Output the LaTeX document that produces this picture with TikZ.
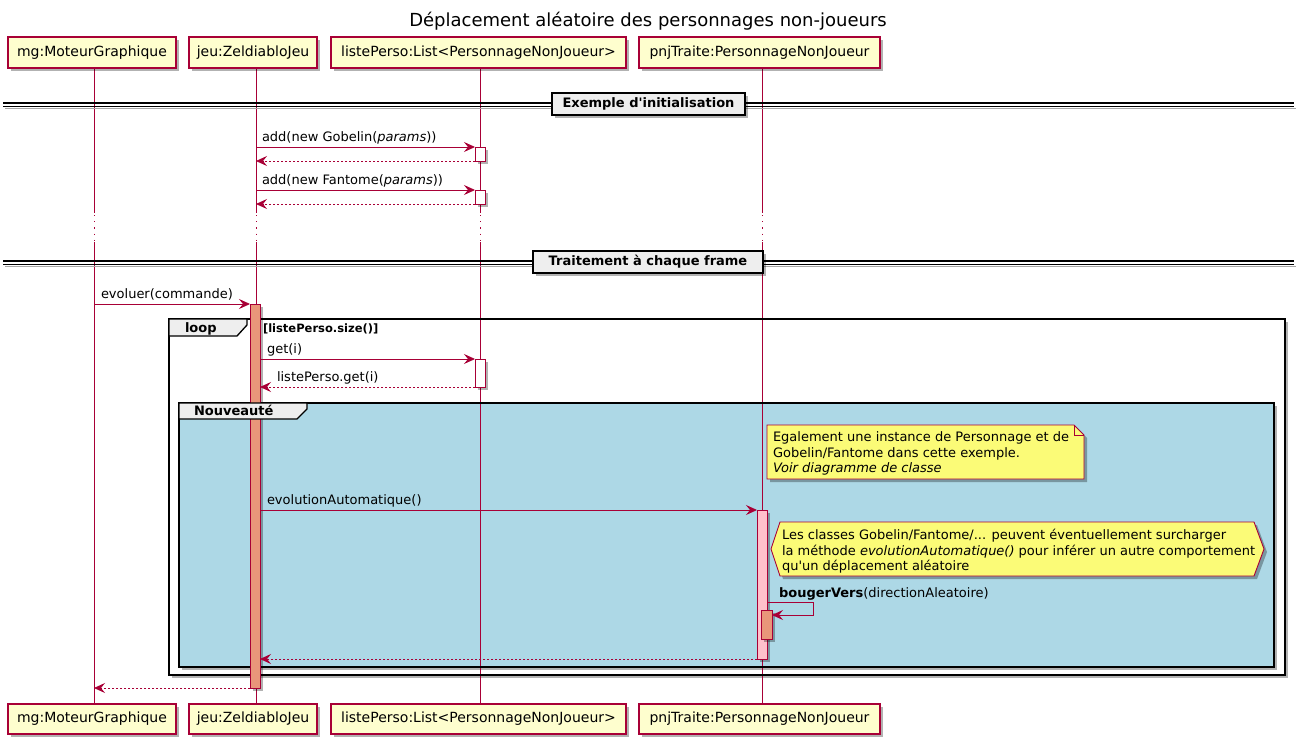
\documentclass[tikz,border=0pt]{standalone}
\usepackage{fontspec}
\setmainfont{DejaVu Sans}[Ligatures=TeXOff]
\usetikzlibrary{arrows.meta,shadows,calc}
\definecolor{pumlred}{HTML}{A80036}
\definecolor{partfill}{HTML}{FEFECE}
\definecolor{notefill}{HTML}{FBFB77}
\definecolor{grpfill}{HTML}{EEEEEE}
\definecolor{nouvfill}{HTML}{ADD8E6}
\definecolor{actsalmon}{HTML}{E9967A}
\definecolor{actpink}{HTML}{FFC0CB}
\tikzset{
  shad/.style={drop shadow={shadow xshift=3pt,shadow yshift=-3pt,fill=black,opacity=0.3}},
  part/.style={draw=pumlred,fill=partfill,line width=1.2pt,font=\fontsize{14}{17}\selectfont,shad},
  life/.style={draw=pumlred,line width=0.8pt},
  lifedot/.style={draw=pumlred,line width=0.8pt,dash pattern=on 1.2pt off 5pt},
  msg/.style={draw=pumlred,line width=0.9pt,-{Stealth[length=11pt,width=10pt,inset=4pt]}},
  ret/.style={msg,dash pattern=on 2pt off 2pt},
  lbl/.style={font=\fontsize{13}{15.5}\selectfont,anchor=base west},
  act/.style={draw=pumlred,line width=0.9pt,shad,anchor=north west},
  divbox/.style={draw=black,fill=grpfill,line width=1.3pt,font=\fontsize{13}{15}\selectfont\bfseries,shad},
  framebox/.style={draw=black,line width=1.8pt},
  tabbox/.style={draw=black,fill=grpfill,line width=1.3pt},
  notebox/.style={draw=pumlred,fill=notefill,line width=0.9pt,shad},
  tabtxt/.style={font=\fontsize{13}{15}\selectfont\bfseries,anchor=base west},
}
\begin{document}
\begin{tikzpicture}[x=1pt,y=-1pt,every node/.style={inner sep=0pt,outer sep=0pt}]
\useasboundingbox (0,0) rectangle (1305,752);
% title
\node[font=\fontsize{18}{21}\selectfont] (title) at (648,21) {Déplacement aléatoire des personnages non-joueurs};

% frame backgrounds with shadows
\fill[white,shad] (169,319) rectangle (1285,675);
\fill[nouvfill,shad] (179,403) rectangle (1274,667);

% lifelines
\foreach \x in {94,256,480,762}{
  \draw[life] (\x,68) -- (\x,213);
  \draw[lifedot] (\x,215) -- (\x,240);
  \draw[life] (\x,242) -- (\x,704);
}
\coordinate (mgL) at (94,0);
\coordinate (jeuL) at (256,0);
\coordinate (lpL) at (480,0);
\coordinate (pnjL) at (762,0);

% frame borders and loop tab
\draw[framebox] (169,319) rectangle (1285,675);
\draw[tabbox] (169,319) -- (247,319) -- (247,325) -- (237,336) -- (169,336) -- cycle;
\node[tabtxt] (looptxt) at (185,332) {loop};
\node[tabtxt,font=\fontsize{11.5}{13}\selectfont\bfseries] (guard) at (263,332) {[listePerso.size()]};
\draw[framebox] (179,403) rectangle (1274,667);

% dividers
\foreach \y in {104,262}{
  \draw[black!35,line width=1.5pt] (5,\y+4.5) -- (1296,\y+4.5);
  \draw[black,line width=1.2pt] (3,\y-1) -- (1294,\y-1);
  \draw[black,line width=1.2pt] (3,\y+2.2) -- (1294,\y+2.2);
}
\node[divbox,minimum width=193pt,minimum height=22pt] (div1) at (648.5,104) {Exemple d'initialisation};
\node[divbox,minimum width=230pt,minimum height=22pt] (div2) at (648,262) {Traitement à chaque frame};

% participants
\node[part,minimum width=168pt,minimum height=31pt] (mgT) at (92,52.5) {mg:MoteurGraphique};
\node[part,minimum width=128pt,minimum height=31pt] (jeuT) at (253,52.5) {jeu:ZeldiabloJeu};
\node[part,minimum width=295pt,minimum height=31pt] (lpT) at (478.5,52.5) {listePerso:List<PersonnageNonJoueur>};
\node[part,minimum width=241pt,minimum height=31pt] (pnjT) at (759.5,52.5) {pnjTraite:PersonnageNonJoueur};
\node[part,minimum width=168pt,minimum height=30pt] (mgB) at (92,719) {mg:MoteurGraphique};
\node[part,minimum width=128pt,minimum height=30pt] (jeuB) at (253,719) {jeu:ZeldiabloJeu};
\node[part,minimum width=295pt,minimum height=30pt] (lpB) at (478.5,719) {listePerso:List<PersonnageNonJoueur>};
\node[part,minimum width=241pt,minimum height=30pt] (pnjB) at (759.5,719) {pnjTraite:PersonnageNonJoueur};

% activations
\node[act,fill=white,minimum width=10pt,minimum height=14pt] (a1) at (475,147) {};
\node[act,fill=white,minimum width=10pt,minimum height=14pt] (a2) at (475,190) {};
\node[act,fill=actsalmon,minimum width=10pt,minimum height=384pt] (aj) at (250,304) {};
\node[act,fill=white,minimum width=10pt,minimum height=28pt] (a3) at (475,359) {};
\node[act,fill=actpink,minimum width=10pt,minimum height=149pt] (ap) at (757,510) {};
\node[act,fill=actsalmon,minimum width=11pt,minimum height=29pt] (ap2) at (761,610) {};

% Nouveaute tab (drawn over the activation)
\draw[tabbox] (179,403) -- (307,403) -- (307,409) -- (297,419) -- (179,419) -- cycle;
\node[tabtxt] (nouvtxt) at (194,415.5) {Nouveauté};

% messages
\draw[msg] (jeuL |- a1.north west) -- (a1.north west);
\node[lbl] (l1) at (262,141.5) {add(new Gobelin(\textit{params}))};
\draw[ret] (a1.south west) -- (jeuL |- a1.south west);
\draw[msg] (jeuL |- a2.north west) -- (a2.north west);
\node[lbl] (l2) at (262,184.5) {add(new Fantome(\textit{params}))};
\draw[ret] (a2.south west) -- (jeuL |- a2.south west);

\draw[msg] (mgL |- aj.north west) -- (aj.north west);
\node[lbl] (l3) at (101,298.5) {evoluer(commande)};

\draw[msg] (aj.east |- a3.north west) -- (a3.north west);
\node[lbl] (l4) at (267,353.5) {get(i)};
\draw[ret] (a3.south west) -- (aj.east |- a3.south west);
\node[lbl] (l5) at (277,381.5) {listePerso.get(i)};

\draw[msg] (aj.east |- ap.north west) -- (ap.north west);
\node[lbl] (l6) at (267,504.5) {evolutionAutomatique()};

\coordinate (s1) at (767,602);
\coordinate (s2) at (813,602);
\coordinate (s3) at (813,615);
\draw[msg] (s1) -- (s2) -- (s3) -- (ap2.east |- s3);
\node[lbl] (l7) at (779,597) {\textbf{bougerVers}(directionAleatoire)};

\draw[ret] (ap.south west) -- (aj.east |- ap.south west);
\draw[ret] (aj.south west) -- (mgL |- aj.south west);

% note 1
\draw[notebox] (767,425) -- (1074,425) -- (1084,435) -- (1084,479) -- (767,479) -- cycle;
\draw[draw=pumlred,line width=0.9pt] (1074,425) -- (1074,435) -- (1084,435);
\node[lbl] (n1a) at (773,441.5) {Egalement une instance de Personnage et de};
\node[lbl] (n1b) at (773,457) {Gobelin/Fantome dans cette exemple.};
\node[lbl] (n1c) at (773,472.5) {\textit{Voir diagramme de classe}};

% note 2 (hexagon)
\draw[notebox] (771,549) -- (780,522) -- (1254,522) -- (1264,549) -- (1254,576) -- (780,576) -- cycle;
\node[lbl] (n2a) at (782,539.5) {Les classes Gobelin/Fantome/... peuvent éventuellement surcharger};
\node[lbl] (n2b) at (782,555) {la méthode \textit{evolutionAutomatique()} pour inférer un autre comportement};
\node[lbl] (n2c) at (782,570.5) {qu'un déplacement aléatoire};
\end{tikzpicture}
\end{document}
